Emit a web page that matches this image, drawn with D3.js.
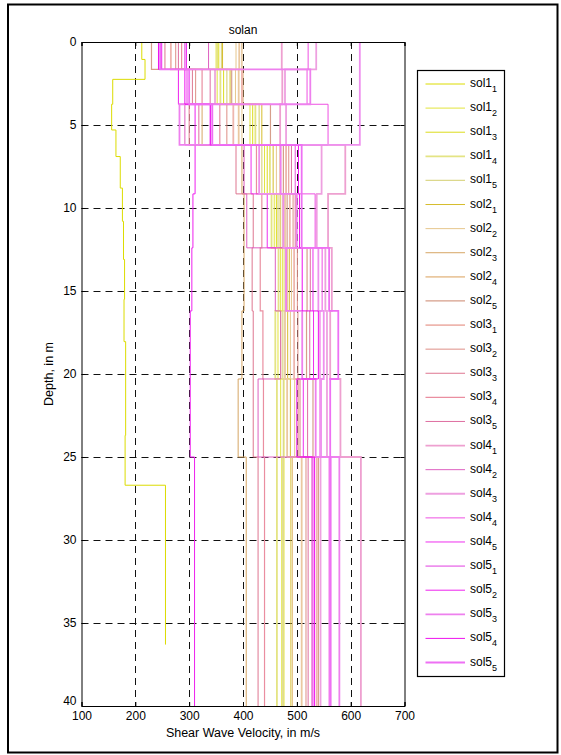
<!DOCTYPE html>
<html>
<head>
<meta charset="utf-8">
<script src="https://cdn.jsdelivr.net/npm/d3@7/dist/d3.min.js"></script>
<style>
  html, body { margin: 0; padding: 0; background: #fff; }
  svg { display: block; font-family: "Liberation Sans", Arial, Helvetica, sans-serif; }
</style>
</head>
<body>
<svg id="chart" width="561" height="755"></svg>
<script>
// ---------------- DATA ----------------
const title = "solan";
const xLabel = "Shear Wave Velocity, in m/s";
const yLabel = "Depth, in m";
const xTicks = [100, 200, 300, 400, 500, 600, 700];
const yTicks = [0, 5, 10, 15, 20, 25, 30, 35, 40];

// shared layer boundaries (m)
const layerDepths = [0, 1.65, 3.75, 6.2, 9.15, 12.4, 16.2, 20.3, 25, 40];

// sol1_1 has its own fine layering
const sol11Depths = [0, 1.05, 2.25, 3.75, 5.3, 6.9, 8.8, 10.8, 13.1, 15.5, 18.05, 23.7, 26.7, 36.3];
const sol11Vs     = [212, 218, 158, 156, 164, 172, 176, 178, 180, 179, 182, 181, 256];

const seriesNames = [
  ["sol1","1"],["sol1","2"],["sol1","3"],["sol1","4"],["sol1","5"],
  ["sol2","1"],["sol2","2"],["sol2","3"],["sol2","4"],["sol2","5"],
  ["sol3","1"],["sol3","2"],["sol3","3"],["sol3","4"],["sol3","5"],
  ["sol4","1"],["sol4","2"],["sol4","3"],["sol4","4"],["sol4","5"],
  ["sol5","1"],["sol5","2"],["sol5","3"],["sol5","4"],["sol5","5"]
];

// velocity per layer (m/s) for series sol1_2 ... sol5_5
const sol1_2 = [350, 352, 413, 440, 458, 470, 465, 470, 472];
const sol1_3 = [355, 364, 418, 445, 462, 474, 470, 476, 476];
const sol1_4 = [352, 358, 423, 450, 453, 466, 460, 463, 463];
const sol1_5 = [360, 370, 430, 435, 465, 478, 474, 475, 474];
const sol2_1 = [362, 376, 435, 456, 469, 486, 483, 488, 489];
const sol2_2 = [387, 386, 398, 462, 473, 490, 488, 496, 492];
const sol2_3 = [398, 400, 324, 398, 402, 402, 398, 391, 406];
const sol2_4 = [393, 392, 392, 469, 478, 482, 478, 482, 509];
const sol2_5 = [230, 379, 451, 475, 482, 519, 518, 530, 540];
const sol3_1 = [266, 398, 382, 480, 487, 495, 495, 503, 537];
const sol3_2 = [275, 312, 370, 485, 493, 501, 502, 506, 517];
const sol3_3 = [255, 306, 357, 387, 419, 417, 419, 419, 428];
const sol3_4 = [286, 324, 300, 425, 435, 432, 437, 438, 440];
const sol3_5 = [280, 339, 318, 490, 497, 525, 524, 520, 521];
const sol4_1 = [472, 473, 469, 590, 558, 565, 562, 581, 619];
const sol4_2 = [336, 348, 292, 402, 407, 460, 470, 428, 528];
const sol4_3 = [536, 478, 480, 546, 537, 553, 556, 556, 544];
const sol4_4 = [521, 519, 558, 497, 534, 547, 543, 543, 560];
const sol4_5 = [295, 296, 340, 415, 445, 530, 531, 512, 530];
const sol5_1 = [617, 617, 617, 430, 475, 540, 550, 545, 563];
const sol5_2 = [249, 280, 311, 311, 307, 305, 302, 302, 310];
const sol5_3 = [292, 525, 282, 470, 500, 480, 510, 535, 579];
const sol5_4 = [243, 292, 339, 503, 505, 510, 540, 500, 533];
const sol5_5 = [246, 300, 343, 509, 509, 560, 577, 562, 562];

const layerSeries = [sol1_2, sol1_3, sol1_4, sol1_5,
  sol2_1, sol2_2, sol2_3, sol2_4, sol2_5,
  sol3_1, sol3_2, sol3_3, sol3_4, sol3_5,
  sol4_1, sol4_2, sol4_3, sol4_4, sol4_5,
  sol5_1, sol5_2, sol5_3, sol5_4, sol5_5];

const colors = [
  "#dcdc00", "#e2e43c", "#dcdc1c", "#e4e484", "#dcd88c",
  "#d6bc2c", "#e6c68c", "#d6a664", "#eac8a0", "#d69e8a",
  "#eeb6ae", "#de8e86", "#de7690", "#ea8ea0", "#de6ea0",
  "#eea0d0", "#de60c0", "#eea0e0", "#ee50e2", "#ee30ee",
  "#ee90ee", "#ee20ee", "#ee80ee", "#ee10ee", "#ee70f4"
];
const widths = [1, 1, 1, 1.8, 1.3, 1, 1, 1, 1.8, 1.2, 1.8, 1, 1, 1.2, 1,
                1.8, 1, 1.8, 1, 1, 1.8, 1, 1.8, 1, 1.8];

// ---------------- LAYOUT ----------------
const svg = d3.select("#chart");
const x = d3.scaleLinear().domain([100, 700]).range([81.5, 404.5]);
const y = d3.scaleLinear().domain([0, 40]).range([42, 706]);
const fontSize = 12;
const fontFam = "'Liberation Sans', Arial, sans-serif";

// outer frame
svg.append("rect").attr("x", 8).attr("y", 4.5).attr("width", 549.5).attr("height", 748)
  .attr("fill", "none").attr("stroke", "#000").attr("stroke-width", 2);

// plot background
svg.append("rect").attr("x", x(100)).attr("y", y(0))
  .attr("width", x(700) - x(100)).attr("height", y(40) - y(0)).attr("fill", "#fff");

// grid
const grid = svg.append("g").attr("stroke", "#111").attr("stroke-width", 1)
  .attr("stroke-dasharray", "7,5");
grid.selectAll("line.gx").data(xTicks.slice(1, -1)).join("line")
  .attr("x1", d => Math.round(x(d)) + 0.5).attr("x2", d => Math.round(x(d)) + 0.5)
  .attr("y1", y(0)).attr("y2", y(40));
grid.selectAll("line.gy").data(yTicks.slice(1, -1)).join("line")
  .attr("y1", d => Math.round(y(d)) + 0.5).attr("y2", d => Math.round(y(d)) + 0.5)
  .attr("x1", x(100)).attr("x2", x(700));

// clip
svg.append("clipPath").attr("id", "clip").append("rect")
  .attr("x", x(100)).attr("y", y(0)).attr("width", x(700) - x(100)).attr("height", y(40) - y(0));

function stepPoints(depths, vs) {
  const pts = [];
  for (let i = 0; i < vs.length; i++) {
    pts.push([vs[i], depths[i]]);
    pts.push([vs[i], depths[i + 1]]);
  }
  return pts;
}
const line = d3.line().x(p => x(p[0])).y(p => y(p[1]));

const allSeries = [stepPoints(sol11Depths, sol11Vs)]
  .concat(layerSeries.map(v => stepPoints(layerDepths, v)));

svg.append("g").attr("clip-path", "url(#clip)")
  .selectAll("path").data(allSeries).join("path")
  .attr("d", line)
  .attr("fill", "none")
  .attr("stroke", (d, i) => colors[i])
  .attr("stroke-width", (d, i) => widths[i]);

// axes
const axB = svg.append("g").attr("transform", `translate(0,${y(40)})`)
  .call(d3.axisBottom(x).tickValues(xTicks).tickSize(-4).tickPadding(5).tickFormat(d3.format("d")));
const axT = svg.append("g").attr("transform", `translate(0,${y(0)})`)
  .call(d3.axisTop(x).tickValues(xTicks).tickSize(-4).tickFormat(""));
const axL = svg.append("g").attr("transform", `translate(${x(100)},0)`)
  .call(d3.axisLeft(y).tickValues(yTicks).tickSize(-4).tickPadding(5).tickFormat(d3.format("d")));
const axR = svg.append("g").attr("transform", `translate(${x(700)},0)`)
  .call(d3.axisRight(y).tickValues(yTicks).tickSize(-4).tickFormat(""));
[axB, axT, axL, axR].forEach(a => {
  a.selectAll("path.domain").attr("stroke", "#000").attr("stroke-width", 1);
  a.selectAll(".tick line").attr("stroke", "#000");
  a.selectAll("text").attr("fill", "#000").style("font-size", fontSize + "px")
    .style("font-family", fontFam);
});
// lift the last y label so it clears the first x label (as in the reference)
axL.selectAll(".tick text").filter(d => d === 40).attr("dy", "-0.15em");

// titles
svg.append("text").attr("x", 243).attr("y", 34).attr("text-anchor", "middle")
  .style("font-size", fontSize + "px").text(title);
svg.append("text").attr("x", 243).attr("y", 737).attr("text-anchor", "middle")
  .style("font-size", "12.5px").text(xLabel);
svg.append("text").attr("transform", "translate(53,374) rotate(-90)").attr("text-anchor", "middle")
  .style("font-size", "12.5px").text(yLabel);

// legend
const lg = svg.append("g");
lg.append("rect").attr("x", 417.5).attr("y", 70.5).attr("width", 87).attr("height", 606)
  .attr("fill", "#fff").attr("stroke", "#000").attr("stroke-width", 1.2);
const ly = d3.scaleLinear().domain([0, 24]).range([84, 662.5]);
const items = lg.selectAll("g.item").data(seriesNames).join("g")
  .attr("transform", (d, i) => `translate(0,${ly(i)})`);
items.append("line").attr("x1", 425.5).attr("x2", 465).attr("y1", 0).attr("y2", 0)
  .attr("stroke", (d, i) => colors[i]).attr("stroke-width", (d, i) => widths[i]);
const t = items.append("text").attr("x", 470).attr("y", 3).style("font-size", fontSize + "px");
t.append("tspan").text(d => d[0]);
t.append("tspan").attr("dy", 5).style("font-size", "9px").text(d => d[1]);
</script>
</body>
</html>
